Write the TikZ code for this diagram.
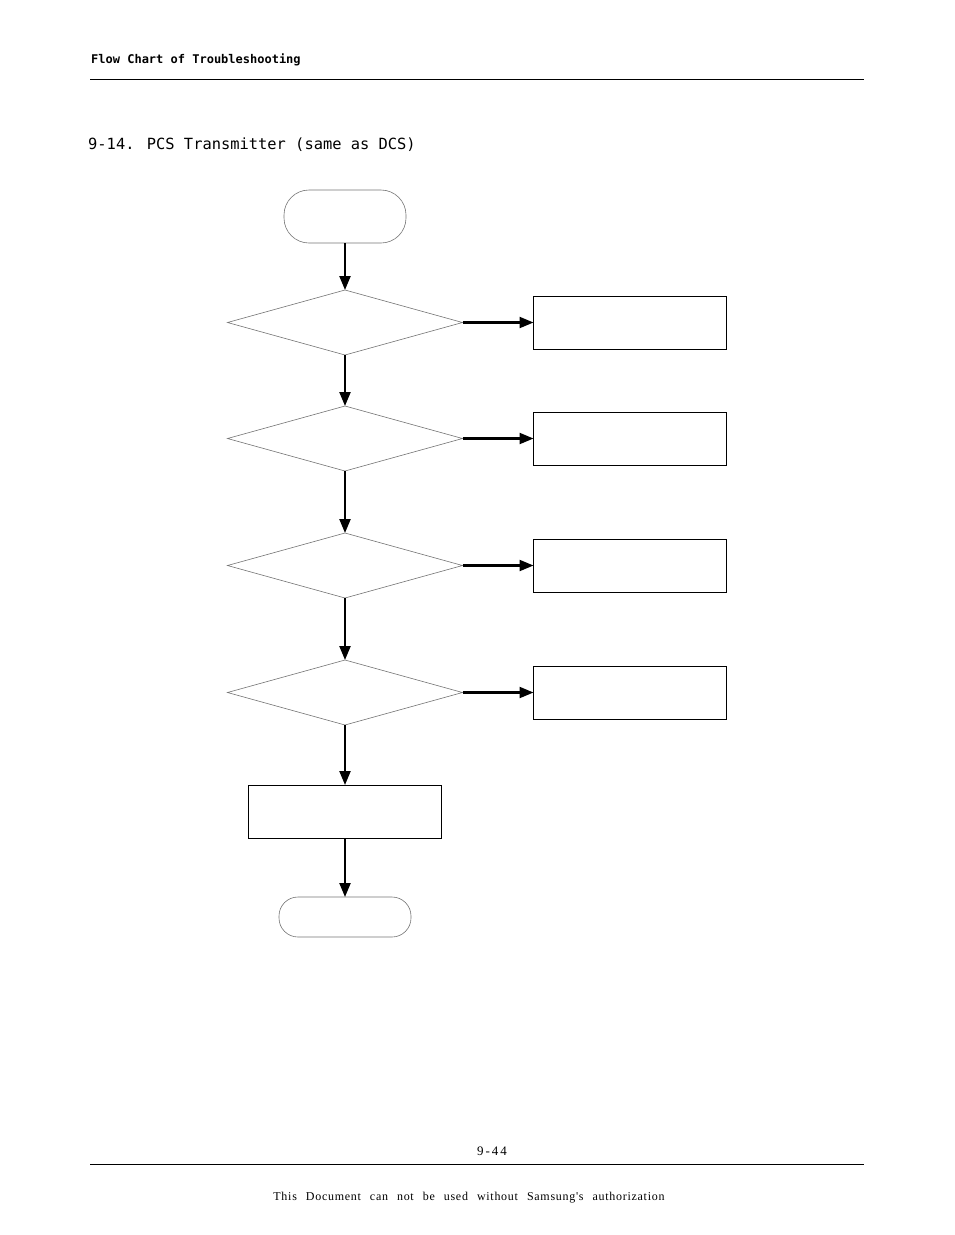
\documentclass[tikz,border=0pt]{standalone}
\usepackage{fontspec}
\setmainfont{Liberation Serif}
\newfontfamily\monofont{DejaVu Sans Mono}
\newfontfamily\footfont[LetterSpace=6]{Liberation Serif}
\newfontfamily\pagefont[LetterSpace=15]{Liberation Serif}
\usetikzlibrary{positioning,shapes.geometric,arrows.meta}

\tikzset{
	terminal/.style={draw=black!55, line width=0.6pt, rounded corners=25pt, minimum width=122pt, minimum height=53pt, inner sep=0pt, outer sep=0pt},
	decision/.style={diamond, draw=black!55, line width=0.6pt, minimum width=235pt, minimum height=65pt, inner sep=0pt, outer sep=0pt},
	action/.style={draw=black, line width=1pt, minimum width=193pt, minimum height=53pt, inner sep=0pt, outer sep=0pt},
	flow/.style={line width=2.2pt, -{Triangle[length=14pt,width=11pt]}},
}

\begin{document}
\begin{tikzpicture}[x=1pt,y=-1pt]
		\useasboundingbox (0,0) rectangle (954,1235);
		% page head
		\node[anchor=base west, inner sep=0pt, font=\monofont\bfseries\fontsize{12}{13}\selectfont] (head) at (91,63) {Flow Chart of Troubleshooting};
		\draw[line width=0.8pt] (90,79) -- (864,79);
		\node[anchor=base west, inner sep=0pt, font=\monofont\fontsize{15.4}{17}\selectfont] (title) at (88,149) {9-14. PCS Transmitter (same as DCS)};
		
		% chart
		\node[terminal] (start) at (345,216.5) {};
		\node[decision, below=47pt of start] (d1) {};
		\node[decision, below=51pt of d1] (d2) {};
		\node[decision, below=62pt of d2] (d3) {};
		\node[decision, below=62pt of d3] (d4) {};
		\node[action, below=60pt of d4] (fix) {};
		\node[terminal, rounded corners=19pt, minimum width=132pt, minimum height=40pt, below=59pt of fix] (stop) {};
		\node[action, right=71pt of d1] (r1) {};
		\node[action, right=71pt of d2] (r2) {};
		\node[action, right=71pt of d3] (r3) {};
		\node[action, right=71pt of d4] (r4) {};
		
		\draw[flow] (start) -- (d1);
		\draw[flow] (d1) -- (d2);
		\draw[flow] (d2) -- (d3);
		\draw[flow] (d3) -- (d4);
		\draw[flow] (d4) -- (fix);
		\draw[flow] (fix) -- (stop);
		\draw[flow] (d1) -- (r1);
		\draw[flow] (d2) -- (r2);
		\draw[flow] (d3) -- (r3);
		\draw[flow] (d4) -- (r4);
		
		% page foot
		\node[font=\pagefont\fontsize{13}{14}\selectfont, inner sep=0pt] (page) at (492,1151) {9-44};
		\draw[line width=0.8pt] (90,1164) -- (864,1164);
		\node[font=\footfont\fontsize{12}{13}\selectfont, inner sep=0pt] (note) at (469,1198) {\spaceskip=9pt This Document can not be used without Samsung's authorization};
\end{tikzpicture}
\end{document}
